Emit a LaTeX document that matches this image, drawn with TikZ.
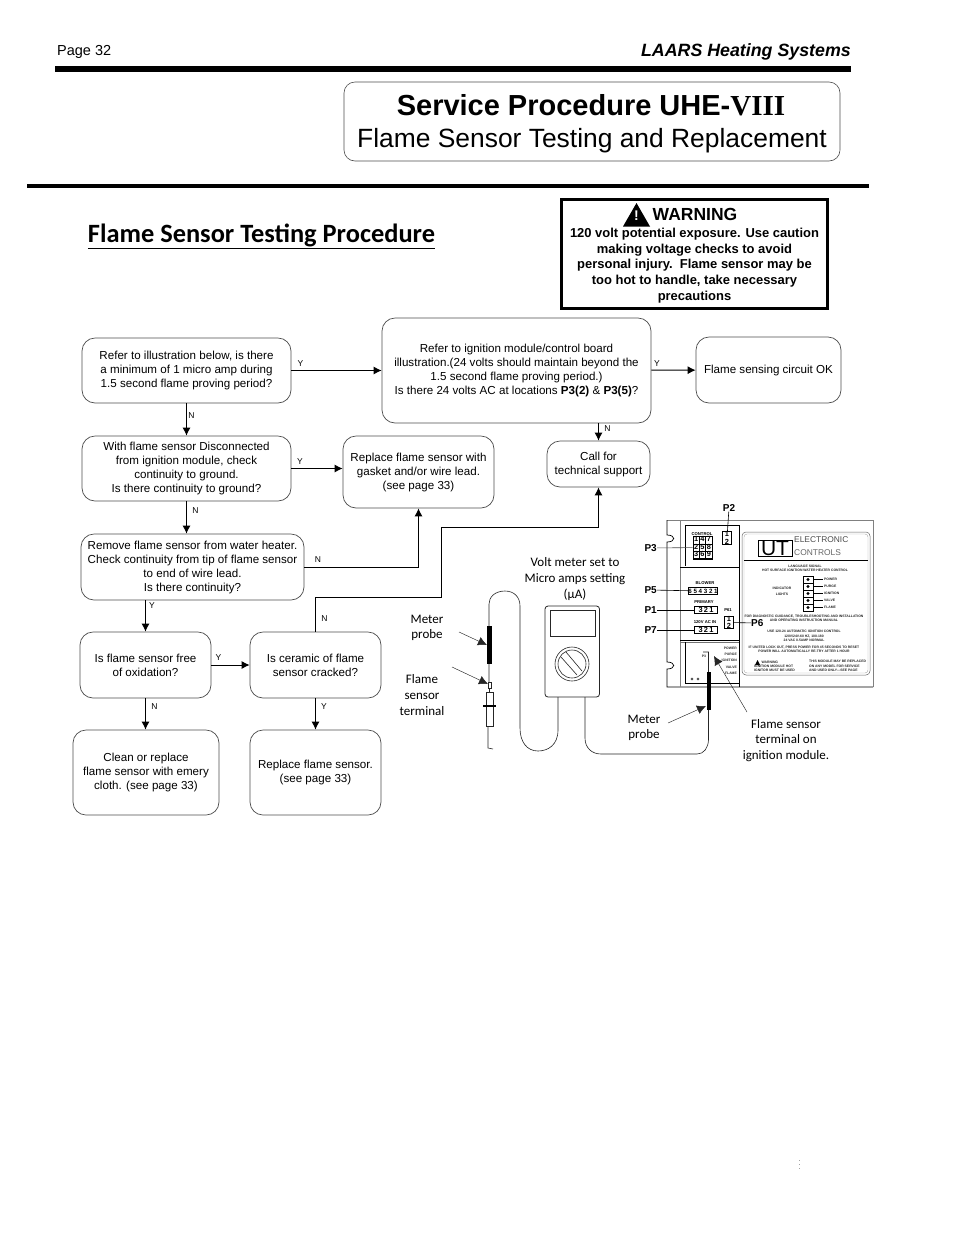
\documentclass[tikz,border=0pt]{standalone}
\usepackage{fontspec}
\setmainfont{Liberation Sans}
\newfontfamily\serifhead{Liberation Serif}
\newfontfamily\calibri{Carlito}
\usetikzlibrary{arrows.meta,positioning,calc}
\tikzset{
  rbox/.style ={draw=black!70,rounded corners=13pt,line width=.7pt,align=center,inner sep=0pt,
                font=\fontsize{11.6}{14}\selectfont},
  farr/.style ={-{Latex[length=8pt,width=8pt]},line width=1pt},
  yn/.style   ={font=\fontsize{8.5}{9}\selectfont,inner sep=0pt},
  note/.style ={font=\calibri\fontsize{13}{15.6}\selectfont,align=center,inner sep=0pt},
  parr/.style ={-{Latex[length=9pt,width=9pt]},line width=.45pt,black!85},
  wire/.style ={line width=.6pt,black!85},
  plbl/.style ={font=\bfseries\fontsize{10}{10}\selectfont,inner sep=0pt},
  conn/.style ={draw,line width=.7pt,inner sep=0pt,font=\bfseries\fontsize{7.4}{7.4}\selectfont},
  ctxt/.style ={inner sep=0pt,font=\bfseries\fontsize{4.2}{5}\selectfont},
  smal/.style ={inner sep=0pt,align=center,font=\bfseries\fontsize{3.4}{4.2}\selectfont,text=black!85},
}

\begin{document}
\begin{tikzpicture}[x=1pt,y=-1pt]
  \useasboundingbox (0,0) rectangle (954,1235);

  % ---------- page head ----------
  \node[anchor=west,inner sep=0pt,font=\fontsize{14.5}{15}\selectfont] (pagenr) at (57,52) {Page 32};
  \node[anchor=east,inner sep=0pt,font=\bfseries\itshape\fontsize{17.8}{18}\selectfont] (brand) at (851,52) {LAARS Heating Systems};
  \fill (55,66) rectangle (851,72);
  \node[draw=black!70,rounded corners=11pt,line width=.6pt,minimum width=496pt,minimum height=79pt,inner sep=0pt] (titlebox) at (592,121.5) {};
  \node[inner sep=0pt,font=\bfseries\fontsize{29}{30}\selectfont] (title) at (591,105) {Service Procedure UHE-{\serifhead VIII}};
  \node[inner sep=0pt,font=\fontsize{26.4}{27}\selectfont] (subtitle) at (592,141) {Flame Sensor Testing and Replacement};
  \fill (27,183.5) rectangle (869,188);
  \node[inner sep=0pt,font=\calibri\bfseries\fontsize{26.4}{27}\selectfont] (head) at (261.5,236) {\underline{Flame Sensor Testing Procedure}};

  % ---------- warning ----------
  \node[draw,line width=3pt,minimum width=266pt,minimum height=109pt,inner sep=0pt] (warnbox) at (694.5,254) {};
  \fill (623,226.5) -- (636.5,203) -- (650,226.5) -- cycle;
  \node[inner sep=0pt,text=white,font=\bfseries\fontsize{14}{14}\selectfont] (warnmark) at (636.5,216) {!};
  \node[anchor=west,inner sep=0pt,font=\bfseries\fontsize{17.5}{18}\selectfont] (warnhead) at (652.5,214) {WARNING};
  \node[align=center,inner sep=0pt,font=\bfseries\fontsize{12.96}{15.75}\selectfont] (warntxt) at (694.5,265.5)
    {120 volt potential exposure. Use caution\\making voltage checks to avoid\\personal injury.\ \ Flame sensor may be\\too hot to handle, take necessary\\precautions};

  % ---------- flow boxes ----------
  \node[rbox,minimum width=209pt,minimum height=65pt] (illus) at (186.5,370.5)
    {Refer to illustration below, is there\\a minimum of 1 micro amp during\\1.5 second flame proving period?};
  \node[rbox,minimum width=269pt,minimum height=105pt] (board) at (516.5,370.5)
    {Refer to ignition module/control board\\illustration.(24 volts should maintain beyond the\\1.5 second flame proving period.)\\Is there 24 volts AC at locations \textbf{P3(2)} \& \textbf{P3(5)}?};
  \node[rbox,minimum width=145pt,minimum height=66pt] (okay) at (768.5,370) {Flame sensing circuit OK};
  \node[rbox,minimum width=209pt,minimum height=65pt] (discon) at (186.5,468.5)
    {With flame sensor Disconnected\\from ignition module, check\\continuity to ground.\\Is there continuity to ground?};
  \node[rbox,minimum width=151pt,minimum height=72pt] (lead) at (418.5,472)
    {Replace flame sensor with\\gasket and/or wire lead.\\(see page 33)};
  \node[rbox,minimum width=103pt,minimum height=46pt] (call) at (598.5,464) {Call for\\technical support};
  \node[rbox,minimum width=223pt,minimum height=66pt] (remove) at (192.5,567)
    {Remove flame sensor from water heater.\\Check continuity from tip of flame sensor\\to end of wire lead.\\Is there continuity?};
  \node[rbox,minimum width=131pt,minimum height=66pt] (free) at (145.5,665) {Is flame sensor free\\of oxidation?};
  \node[rbox,minimum width=131pt,minimum height=66pt] (cracked) at (315.5,665) {Is ceramic of flame\\sensor cracked?};
  \node[rbox,minimum width=146pt,minimum height=85pt] (clean) at (146,772.5) {Clean or replace\\flame sensor with emery\\cloth. (see page 33)};
  \node[rbox,minimum width=131pt,minimum height=85pt] (sensor) at (315.5,772.5) {Replace flame sensor.\\(see page 33)};

  % ---------- flow arrows ----------
  \coordinate (bendA) at (441,597);
  \coordinate (bendB) at (441,527);
  \draw[farr] (illus) -- (board);
  \draw[farr] (board) -- (okay);
  \draw[farr] (illus) -- (discon);
  \draw[farr] (call.north |- board.south) -- (call.north);
  \draw[farr] (discon.east) -- (discon.east -| lead.west);
  \draw[farr] (discon.south) -- (discon.south |- remove.north);
  \draw[farr] (remove.east) -| (lead.south);
  \draw[farr] (free.north |- remove.south) -- (free.north);
  \draw[farr] (free) -- (cracked);
  \draw[farr] (cracked.north) |- (bendA) -- (bendB) -| (call.south);
  \draw[farr] (free.south) -- (free.south |- clean.north);
  \draw[farr] (cracked) -- (sensor);

  % ---------- Y / N ----------
  \node[yn] (y1) at (300.5,364) {Y};
  \node[yn] (y2) at (657,364) {Y};
  \node[yn] (n1) at (191.5,416) {N};
  \node[yn] (n2) at (607.5,429) {N};
  \node[yn] (y3) at (300,461.5) {Y};
  \node[yn] (n3) at (195.5,511) {N};
  \node[yn] (n4) at (318,560) {N};
  \node[yn] (y4) at (152,606) {Y};
  \node[yn] (y5) at (218.5,657.5) {Y};
  \node[yn] (n5) at (324.5,619) {N};
  \node[yn] (n6) at (154.5,706.5) {N};
  \node[yn] (y6) at (324,706.5) {Y};

  % ---------- meter ----------
  \node[note] (mtext) at (575,579) {Volt meter set to\\Micro amps setting\\(µA)};
  \draw[wire,line width=.8pt,rounded corners=3pt,fill=white] (545,606) rectangle (599.5,697);
  \draw[wire] (550,610) rectangle (595,636);
  \draw[wire] (572,664) circle (17pt);
  \draw[wire] (572,664) circle (14pt);
  \draw[wire] (561,657) -- (577,675);
  \draw[wire] (566,652) -- (582,671);

  % ---------- left lead and sensor ----------
  \draw[wire] (558,697) -- (558,730) .. controls (558,745) and (548,751) .. (538,751)
    .. controls (527,751) and (520,742) .. (520,728) -- (520,606)
    .. controls (520,597) and (514,591) .. (505,591) .. controls (495,591) and (489,597) .. (489,604) -- (489,682);
  \fill (487,626) rectangle (492,664);
  \draw[wire,fill=white] (488,682) rectangle (491,688);
  \draw[wire] (489.5,688) -- (489.5,692);
  \draw[wire,fill=white] (486,692) rectangle (493,726);
  \draw[line width=1.2pt] (483,706) -- (496,706);
  \draw[wire] (488,726) -- (488,748) -- (493,749);
  \coordinate (pfrom) at (459,632);
  \coordinate (pto) at (487,645);
  \coordinate (tfrom) at (452,667);
  \coordinate (tto) at (488,684);
  \draw[parr] (pfrom) -- (pto);
  \draw[parr] (tfrom) -- (tto);
  \node[note] (mprobe) at (427,628) {Meter\\probe};
  \node[note] (fterm) at (422,695) {Flame\\sensor\\terminal};

  % ---------- right lead ----------
  \draw[wire] (585,697) -- (585,738) .. controls (585,748) and (592,754) .. (601,754) -- (697,754)
    .. controls (704,754) and (708,748) .. (708.5,740) -- (708.5,652) -- (703,652);
  \fill (706.5,672) rectangle (711,710);
  \coordinate (qfrom) at (668,723);
  \coordinate (qto) at (706,706);
  \draw[parr] (qfrom) -- (qto);
  \node[note] (rprobe) at (644,728) {Meter\\probe};
  \coordinate (sfrom) at (747,712);
  \coordinate (sto) at (714,656);
  \draw[parr] (sfrom) -- (sto);
  \node[note] (sterm) at (786,740.5) {Flame sensor\\terminal on\\ignition module.};

  % ---------- module outline ----------
  \draw[black!50,line width=.5pt] (667,520) -- (873,520) -- (873,687);
  \draw[line width=.7pt] (667,520) -- (667,535) .. controls (676,535) and (676,542) .. (667,542) -- (667,662)
    .. controls (676,662) and (676,669) .. (667,669) -- (667,687) -- (873,687);
  \draw[black!50,line width=.5pt] (680,520) -- (680,687);
  \draw[line width=.7pt] (739,525) -- (739,687);
  \draw[line width=.6pt] (685,525) -- (739,525);
  \draw[line width=.6pt] (685,525) -- (685,566);
  \draw[line width=.6pt] (680,567.5) -- (739,567.5);
  \draw[line width=.6pt] (680,640.5) -- (739,640.5);
  \draw[black!55,line width=.5pt] (680,642) -- (739,642);
  \draw[line width=.6pt] (685,642) -- (685,683) -- (739,683);
  \draw[black!60,line width=.5pt,rounded corners=4pt] (742,532) rectangle (870,675);
  \draw[black!35,line width=.4pt,rounded corners=3pt] (744,534) rectangle (868,673);
  \draw[line width=.5pt] (744,560) -- (868,560);

  % ---------- module logo ----------
  \node[draw,line width=.7pt,minimum width=34pt,minimum height=16pt,inner sep=0pt,font=\fontsize{21}{16}\selectfont] (logo) at (775,548) {UT};
  \node[anchor=west,inner sep=0pt,text=black!70,font=\fontsize{8.4}{8.4}\selectfont] (logoa) at (794,540) {ELECTRONIC};
  \node[anchor=west,inner sep=0pt,text=black!60,font=\fontsize{8.4}{8.4}\selectfont] (logob) at (794,553) {CONTROLS};

  % ---------- module connectors ----------
  \node[conn,align=center] (pthree) at (702.5,547.5)
    {\setlength\tabcolsep{1.1pt}\def\arraystretch{.85}\begin{tabular}{|c|c|c|}\hline 1&4&7\\\hline 2&5&8\\\hline 3&6&9\\\hline\end{tabular}};
  \node[ctxt] (tcontrol) at (702,534) {CONTROL};
  \node[conn,align=center,minimum width=9pt] (ptwo) at (727,538) {1\\2};
  \node[conn,minimum width=29pt,minimum height=7pt,font=\bfseries\fontsize{6.2}{6.2}\selectfont] (pfive) at (703,591) {6 5 4 3 2 1};
  \node[ctxt] (tblower) at (705,583) {BLOWER};
  \node[conn,minimum width=23pt,minimum height=6.5pt] (pone) at (706,610) {3\,2\,1};
  \node[ctxt] (tprimary) at (704,602) {PRIMARY};
  \node[conn,minimum width=23pt,minimum height=6.5pt] (pseven) at (706,630) {3\,2\,1};
  \node[ctxt] (tacin) at (705,622) {120V AC IN};
  \node[conn,align=center,minimum width=9pt] (psix) at (729,622.5) {1\\2};
  \node[ctxt] (tpone) at (728,610.5) {P61};

  \node[plbl] (ltwo) at (729,508) {P2};
  \node[plbl,anchor=east] (lthree) at (657,548) {P3};
  \node[plbl,anchor=east] (lfive) at (657,590) {P5};
  \node[plbl,anchor=east] (lone) at (657,610) {P1};
  \node[plbl,anchor=east] (lseven) at (657,630) {P7};
  \node[plbl,anchor=west] (lsix) at (751,623) {P6};
  \draw[line width=.6pt] (ltwo) -- (ptwo);
  \draw[black!70,line width=.6pt] (lthree) -- (pthree);
  \draw[line width=.6pt] (lfive) -- (pfive);
  \draw[line width=.6pt] (lone) -- (pone);
  \draw[line width=.6pt] (lseven) -- (pseven);
  \draw[line width=.6pt] (lsix) -- (psix);

  % ---------- lower section ----------
  \node[smal,anchor=east] (ledpo) at (737,648) {POWER};
  \node[smal,anchor=east] (ledpu) at (737,654) {PURGE};
  \node[smal,anchor=east] (ledig) at (737,660.5) {IGNITION};
  \node[smal,anchor=east] (ledva) at (737,667) {VALVE};
  \node[smal,anchor=east] (ledfl) at (737,673) {FLAME};
  \node[smal] (tpthree) at (704,656) {P3};
  \draw[line width=.35pt] (692,679) circle (1.2pt);
  \draw[line width=.35pt] (698,679) circle (1.2pt);

  % ---------- indicator lamps ----------
  \draw[line width=.5pt] (803,576) rectangle (813,611);
  \draw[line width=.5pt] (803,583) -- (813,583);
  \draw[line width=.5pt] (803,590) -- (813,590);
  \draw[line width=.5pt] (803,597) -- (813,597);
  \draw[line width=.5pt] (803,604) -- (813,604);
  \fill (808,579.5) circle (1.6pt);
  \fill (808,586.5) circle (1.6pt);
  \fill (808,593.5) circle (1.6pt);
  \fill (808,600.5) circle (1.6pt);
  \fill (808,607.5) circle (1.6pt);
  \draw[line width=.5pt] (813,579.5) -- (823,579.5);
  \draw[line width=.5pt] (813,586.5) -- (823,586.5);
  \draw[line width=.5pt] (813,593.5) -- (823,593.5);
  \draw[line width=.5pt] (813,600.5) -- (823,600.5);
  \draw[line width=.5pt] (813,607.5) -- (823,607.5);
  \node[smal,anchor=west] (lampa) at (824,579.5) {POWER};
  \node[smal,anchor=west] (lampb) at (824,586.5) {PURGE};
  \node[smal,anchor=west] (lampc) at (824,593.5) {IGNITION};
  \node[smal,anchor=west] (lampd) at (824,600.5) {VALVE};
  \node[smal,anchor=west] (lampe) at (824,607.5) {FLAME};
  \node[smal] (lampt) at (782,591) {INDICATOR\\[2pt]LIGHTS};

  % ---------- sticker text ----------
  \node[smal] (txta) at (805,568.5) {LANGUAGE SIGNAL\\HOT SURFACE IGNITION WATER HEATER CONTROL};
  \node[smal] (txtb) at (804,618.5) {FOR DIAGNOSTIC GUIDANCE, TROUBLESHOOTING AND INSTALLATION\\AND OPERATING INSTRUCTION MANUAL};
  \node[smal] (txtc) at (804,636) {USE 120-24 AUTOMATIC IGNITION CONTROL\\120V/24V-60 HZ, 100-180\\24 VAC 0.5AMP NORMAL};
  \node[smal] (txtd) at (804,649) {IF UNITED LOCK OUT, PRESS POWER FOR 45 SECONDS TO RESET\\POWER WILL AUTOMATICALLY RE-TRY AFTER 1 HOUR};
  \fill (755,665) -- (757.5,660) -- (760,665) -- cycle;
  \node[smal,anchor=west] (txte) at (761.5,662.5) {WARNING};
  \node[smal,anchor=west,align=left] (txtf) at (754,668) {IGNITION MODULE HOT\\IGNITOR MUST BE USED};
  \node[smal,align=left,anchor=west] (txtg) at (809,666) {THIS MODULE MAY BE REPLACED\\ON ANY MODEL FOR SERVICE\\AND USED ONLY—SEE PAGE};

  % ---------- page foot ----------
  \node[inner sep=0pt,text=black!70,font=\fontsize{7}{7}\selectfont] (mark) at (799.5,1162) {$\vdots$};
\end{tikzpicture}
\end{document}
